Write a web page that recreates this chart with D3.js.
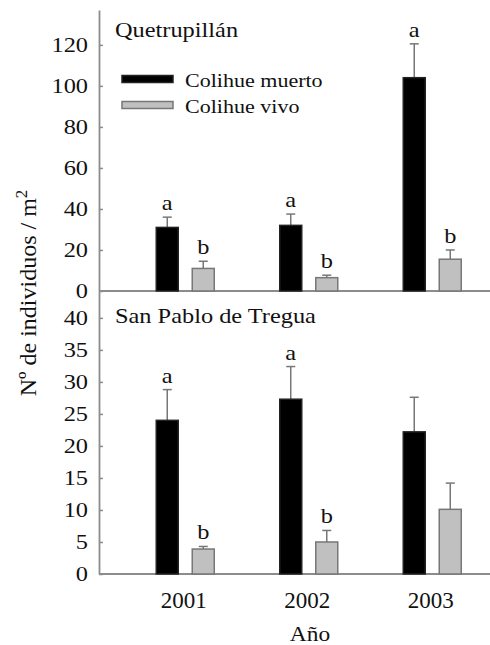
<!DOCTYPE html>
<html>
<head>
<meta charset="utf-8">
<script src="https://cdn.jsdelivr.net/npm/d3@7"></script>
<style>
  body { margin: 0; background: #fff; }
  svg { display: block; }
  svg text { font-family: "Liberation Serif", Tinos, "Times New Roman", Times, "DejaVu Serif", serif !important; fill: #111; }
</style>
</head>
<body>
<div class="chart-container"></div>
<script>
// Data
const years = ['2001', '2002', '2003'];
const series = ['Colihue muerto', 'Colihue vivo'];

const quetMuerto = [31, 32, 104];
const quetMuertoErr = [5, 5.5, 16.5];
const quetVivo = [11, 6.5, 15.5];
const quetVivoErr = [3.5, 1.2, 4.5];
const quetLetters = [['a', 'b'], ['a', 'b'], ['a', 'b']];

const spMuerto = [24, 27.3, 22.2];
const spMuertoErr = [4.8, 5.1, 5.4];
const spVivo = [3.9, 5, 10.1];
const spVivoErr = [0.4, 1.8, 4.1];
const spLetters = [['a', 'b'], ['a', 'b'], ['', '']];

const topTicks = [0, 20, 40, 60, 80, 100, 120];
const bottomTicks = [0, 5, 10, 15, 20, 25, 30, 35, 40];

// Layout
const width = 490;
const height = 645;
const axisX = 99;
const stretch = 'scale(1.16,1)';
const axisColor = '#8c8c8c';
const fills = ['#000000', '#c0c0c0'];
const strokes = ['#222222', '#777777'];

const svg = d3.select('.chart-container')
  .append('svg')
  .attr('width', width)
  .attr('height', height);

// Scales
const xScale = d3.scaleBand()
  .domain(years)
  .range([123.5, 494]);

const xSub = d3.scaleBand()
  .domain(series)
  .range([-29, 29])
  .paddingInner(0.389)
  .paddingOuter(0);

const yTop = d3.scaleLinear().domain([0, 137]).range([291, 10]);
const yBottom = d3.scaleLinear().domain([0, 44.2]).range([574, 291]);

function buildRows(muerto, muertoErr, vivo, vivoErr, letters) {
  return years.map((year, i) => ({
    year,
    values: [
      { key: series[0], value: muerto[i], err: muertoErr[i], letter: letters[i][0], idx: 0 },
      { key: series[1], value: vivo[i], err: vivoErr[i], letter: letters[i][1], idx: 1 }
    ]
  }));
}

function drawPanel(rows, yScale, ticks, title, titleY) {
  const panel = svg.append('g');

  // y axis
  const yAxis = d3.axisLeft(yScale)
    .tickValues(ticks)
    .tickSizeInner(-4)
    .tickSizeOuter(0)
    .tickPadding(9.5);

  const yAxisDraw = panel.append('g')
    .attr('transform', `translate(${axisX},0)`)
    .call(yAxis)
    .attr('font-family', null);

  yAxisDraw.select('.domain').attr('stroke', axisColor).attr('stroke-width', 1.8);
  yAxisDraw.selectAll('.tick line').attr('stroke', axisColor).attr('stroke-width', 1.5);
  yAxisDraw.selectAll('.tick text')
    .attr('font-size', 21)
    .attr('fill', '#111')
    .attr('transform', stretch);

  // baseline
  panel.append('line')
    .attr('x1', axisX)
    .attr('x2', width)
    .attr('y1', yScale(0))
    .attr('y2', yScale(0))
    .attr('stroke', axisColor)
    .attr('stroke-width', 1.8);

  // title
  panel.append('text')
    .attr('transform', `translate(115,${titleY}) ${stretch}`)
    .attr('font-size', 21)
    .text(title);

  // bars
  const groups = panel.selectAll('.group')
    .data(rows)
    .enter()
    .append('g')
    .attr('class', 'group')
    .attr('transform', d => `translate(${xScale(d.year) + xScale.bandwidth() / 2},0)`);

  const cells = groups.selectAll('.cell')
    .data(d => d.values)
    .enter()
    .append('g')
    .attr('class', 'cell');

  // error bars (upper only)
  cells.append('line')
    .attr('x1', d => xSub(d.key) + xSub.bandwidth() / 2)
    .attr('x2', d => xSub(d.key) + xSub.bandwidth() / 2)
    .attr('y1', d => yScale(d.value))
    .attr('y2', d => yScale(d.value + d.err))
    .attr('stroke', '#777')
    .attr('stroke-width', 1.5);

  cells.append('line')
    .attr('x1', d => xSub(d.key) + xSub.bandwidth() / 2 - 4.5)
    .attr('x2', d => xSub(d.key) + xSub.bandwidth() / 2 + 4.5)
    .attr('y1', d => yScale(d.value + d.err))
    .attr('y2', d => yScale(d.value + d.err))
    .attr('stroke', '#777')
    .attr('stroke-width', 1.5);

  cells.append('rect')
    .attr('x', d => xSub(d.key))
    .attr('y', d => yScale(d.value))
    .attr('width', xSub.bandwidth())
    .attr('height', d => yScale(0) - yScale(d.value))
    .attr('fill', d => fills[d.idx])
    .attr('stroke', d => strokes[d.idx])
    .attr('stroke-width', 1.5);

  cells.filter(d => d.letter)
    .append('text')
    .attr('transform', d => `translate(${xSub(d.key) + xSub.bandwidth() / 2},${yScale(d.value + d.err) - 7}) ${stretch}`)
    .attr('text-anchor', 'middle')
    .attr('font-size', 21)
    .text(d => d.letter);

  return panel;
}

const quetRows = buildRows(quetMuerto, quetMuertoErr, quetVivo, quetVivoErr, quetLetters);
const spRows = buildRows(spMuerto, spMuertoErr, spVivo, spVivoErr, spLetters);

drawPanel(quetRows, yTop, topTicks, 'Quetrupillán', 37);
drawPanel(spRows, yBottom, bottomTicks, 'San Pablo de Tregua', 323);

// Legend
const legend = svg.append('g')
  .attr('class', 'legend')
  .selectAll('g')
  .data(series)
  .enter()
  .append('g')
  .attr('transform', (d, i) => `translate(122,${79 + i * 26})`);

legend.append('rect')
  .attr('x', 0)
  .attr('y', -3.5)
  .attr('width', 51)
  .attr('height', 7)
  .attr('fill', (d, i) => fills[i])
  .attr('stroke', (d, i) => strokes[i])
  .attr('stroke-width', 1.5);

legend.append('text')
  .attr('transform', `translate(63,8) scale(1.13,1)`)
  .attr('font-size', 19.5)
  .text(d => d);

// x axis (years)
const xAxis = d3.axisBottom(xScale)
  .tickSize(0)
  .tickPadding(17.5);

const xAxisDraw = svg.append('g')
  .attr('transform', `translate(-1.5,574)`)
  .call(xAxis)
  .attr('font-family', null);

xAxisDraw.select('.domain').remove();
xAxisDraw.selectAll('.tick text')
  .attr('font-size', 23)
  .attr('fill', '#111');

// Axis titles
svg.append('text')
  .attr('transform', `translate(310,641) scale(1.17,1)`)
  .attr('text-anchor', 'middle')
  .attr('font-size', 20)
  .text('Año');

const yLabel = svg.append('text')
  .attr('transform', 'translate(36,293) rotate(-90)')
  .attr('text-anchor', 'middle')
  .attr('font-size', 24);

yLabel.append('tspan').text('Nº de individuos / m');
yLabel.append('tspan')
  .attr('dy', -9)
  .attr('font-size', 17)
  .text('2');
</script>
</body>
</html>
